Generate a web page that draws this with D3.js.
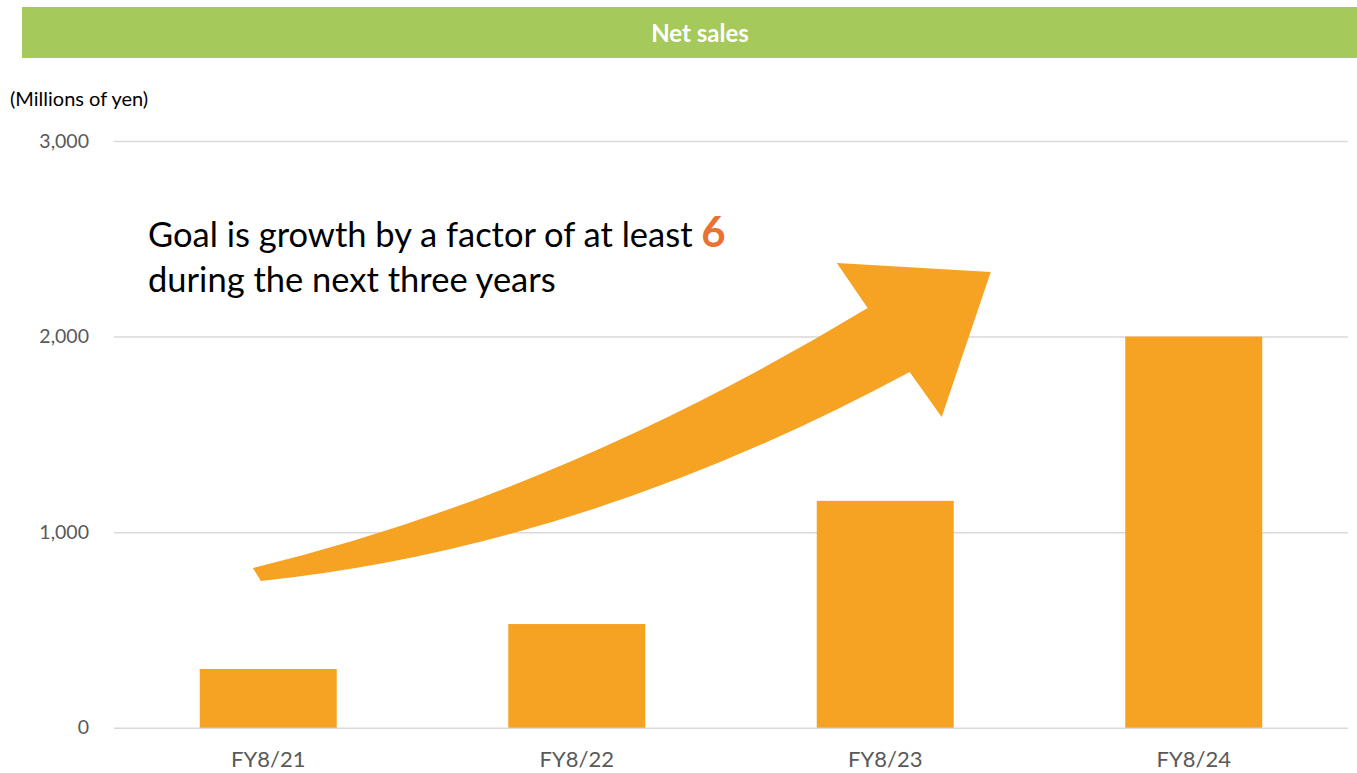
<!DOCTYPE html>
<html>
<head>
<meta charset="utf-8">
<script src="https://cdn.jsdelivr.net/npm/d3@7"></script>
<style>
  body { margin: 0; background: #fff; }
  text { font-family: Lato, "Noto Sans", sans-serif; }
</style>
</head>
<body>
<div id="chart"></div>
<script>
let height = 773,
    width = 1357,
    margin = ({ top: 141, right: 9, bottom: 45, left: 114 });

// data
const categories = ["FY8/21", "FY8/22", "FY8/23", "FY8/24"];
const netSales = [300, 530, 1160, 2000];
const yTicks = [0, 1000, 2000, 3000];

// arrow outline in [category position, value] (0 = first bar centre)
const arrowUpperEdge = [[-0.050, 817], [0.945, 1195], [1.943, 2146]];
const arrowHead = [[1.843, 2376], [2.342, 2330], [2.183, 1589]];
const arrowLowerEdge = [[2.079, 1819], [1.026, 924], [-0.024, 750]];

const svg = d3.select("#chart")
  .append("svg")
  .attr("width", width)
  .attr("height", height);

// title band
svg.append("rect")
  .attr("x", 22)
  .attr("y", 7)
  .attr("width", width - 22)
  .attr("height", 51)
  .attr("fill", "#a5c95b");

svg.append("text")
  .attr("x", 700)
  .attr("y", 42)
  .attr("text-anchor", "middle")
  .attr("fill", "#fff")
  .attr("font-weight", "bold")
  .attr("font-size", 24)
  .text("Net sales");

svg.append("text")
  .attr("x", 10)
  .attr("y", 106)
  .attr("fill", "#000")
  .attr("font-size", 20)
  .text("(Millions of yen)");

let x = d3.scaleBand()
  .domain(categories)
  .range([margin.left, width - margin.right])
  .paddingInner(0.556)
  .paddingOuter(0.278);

let y = d3.scaleLinear()
  .domain([0, 3000])
  .range([height - margin.bottom - 0.3, margin.top]);

// category position -> pixel, for the annotation arrow
let xPos = d3.scaleLinear()
  .domain([0, 1])
  .range([x(categories[0]) + x.bandwidth() / 2, x(categories[1]) + x.bandwidth() / 2]);

// gridlines + y labels
const yAxis = svg.append("g")
  .attr("transform", `translate(${margin.left},0)`)
  .call(d3.axisLeft(y)
    .tickValues(yTicks)
    .tickSize(-(width - margin.left - margin.right))
    .tickPadding(25)
    .tickFormat(d3.format(","))
  );
yAxis.select(".domain").remove();
yAxis.selectAll(".tick line").attr("stroke", "#d9d9d9").attr("stroke-width", 1.5);
yAxis.selectAll(".tick text")
  .attr("fill", "#595959")
  .attr("font-size", 19.5)
  .attr("font-family", "Lato, sans-serif");

// bars
svg.append("g")
  .selectAll("rect")
  .data(netSales)
  .join("rect")
  .attr("x", (d, i) => x(categories[i]))
  .attr("y", d => y(d))
  .attr("width", x.bandwidth())
  .attr("height", d => y(0) - y(d))
  .attr("fill", "#f6a222");

// x labels
const xAxis = svg.append("g")
  .attr("transform", `translate(0,${y(0)})`)
  .call(d3.axisBottom(x).tickSize(0).tickPadding(24));
xAxis.select(".domain").remove();
xAxis.selectAll(".tick text")
  .attr("fill", "#595959")
  .attr("font-size", 22)
  .attr("font-family", "Lato, sans-serif");

// curved growth arrow
const pt = p => [xPos(p[0]), y(p[1])];
const path = d3.path();
let a = pt(arrowUpperEdge[0]), c = pt(arrowUpperEdge[1]), b = pt(arrowUpperEdge[2]);
path.moveTo(...a);
path.quadraticCurveTo(c[0], c[1], b[0], b[1]);
arrowHead.forEach(p => path.lineTo(...pt(p)));
a = pt(arrowLowerEdge[0]); c = pt(arrowLowerEdge[1]); b = pt(arrowLowerEdge[2]);
path.lineTo(...a);
path.quadraticCurveTo(c[0], c[1], b[0], b[1]);
path.closePath();

svg.append("path")
  .attr("d", path.toString())
  .attr("fill", "#f6a222");

// annotation text
const note = svg.append("text")
  .attr("x", 148)
  .attr("y", 247)
  .attr("fill", "#000")
  .attr("font-size", 34.5);

note.append("tspan").text("Goal is growth by a factor of at least ");
note.append("tspan")
  .attr("fill", "#e97132")
  .attr("font-weight", "bold")
  .attr("font-size", 42)
  .text("6");
note.append("tspan")
  .attr("x", 148)
  .attr("dy", 45)
  .text("during the next three years");
</script>
</body>
</html>
